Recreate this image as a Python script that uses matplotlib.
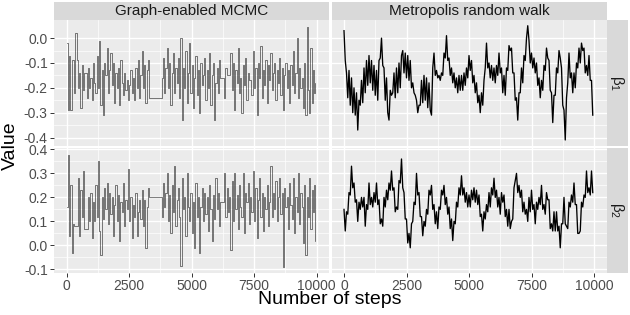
import matplotlib
matplotlib.use('Agg')
import matplotlib.pyplot as plt
import numpy as np

plt.rcParams['font.family'] = ['Liberation Sans', 'DejaVu Sans']

# trace values, one every 50 steps
ge_beta1 = [
    -0.02, -0.29, -0.07, -0.29, -0.09, -0.09, -0.22, 0.02, -0.09, -0.2,
    -0.14, -0.28, -0.11, -0.21, -0.14, -0.14, -0.24, -0.12, -0.2, -0.16,
    -0.25, -0.1, -0.18, -0.22, -0.07, -0.2, -0.01, -0.27, -0.13, -0.31,
    -0.1, -0.15, -0.04, -0.22, -0.13, -0.06, -0.19, -0.1, -0.26, -0.14,
    -0.2, -0.12, -0.27, -0.09, -0.18, -0.23, -0.14, -0.21, -0.17, -0.25,
    -0.19, -0.13, -0.22, -0.16, -0.25, -0.12, -0.2, -0.09, -0.24, -0.15,
    -0.05, -0.2, -0.11, -0.26, -0.13, -0.09, -0.24, -0.24, -0.24, -0.24,
    -0.24, -0.24, -0.24, -0.24, -0.24, -0.24, -0.16, -0.08, -0.22, -0.12,
    -0.04, -0.2, -0.1, -0.27, -0.14, -0.06, -0.22, -0.12, -0.18, -0.08,
    -0.24, 0.0, -0.33, -0.12, -0.2, -0.05, -0.26, -0.14, -0.02, -0.22,
    -0.11, -0.28, -0.16, -0.07, -0.23, -0.13, -0.3, -0.1, -0.19, -0.15,
    -0.08, -0.25, -0.13, -0.2, -0.06, -0.27, -0.15, -0.1, -0.33, -0.18,
    -0.12, -0.22, -0.09, -0.16, -0.16, -0.16, -0.24, -0.12, -0.15, -0.15,
    -0.15, -0.06, -0.21, -0.1, -0.29, -0.13, -0.18, -0.04, -0.22, -0.16,
    -0.3, -0.11, -0.19, -0.08, -0.25, -0.14, -0.17, -0.17, -0.23, -0.05,
    -0.2, -0.12, -0.31, -0.1, -0.16, -0.03, -0.24, -0.13, -0.19, -0.09,
    -0.26, -0.11, -0.17, -0.06, -0.21, -0.14, -0.1, -0.25, -0.13, -0.18,
    -0.08, -0.23, -0.12, -0.29, -0.15, -0.1, -0.2, -0.13, -0.26, -0.11,
    -0.19, -0.05, -0.22, -0.14, 0.0, -0.24, -0.12, -0.2, -0.16, -0.28,
    -0.1, -0.31, 0.045, -0.21, -0.3, -0.04, -0.26, -0.13, -0.22, -0.18,
]
ge_beta2 = [
    0.16, 0.375, 0.04, 0.25, -0.03, 0.09, 0.08, 0.08, 0.08, 0.28,
    0.04, 0.23, 0.12, 0.31, 0.07, 0.07, 0.07, 0.2, 0.1, 0.22,
    0.03, 0.18, 0.1, 0.25, 0.12, 0.35, 0.06, -0.04, 0.2, 0.11,
    0.24, 0.15, 0.26, 0.09, 0.22, 0.13, 0.2, 0.04, 0.17, 0.25,
    0.1, 0.21, 0.02, 0.18, 0.14, 0.26, 0.08, 0.19, 0.15, 0.32,
    0.1, 0.2, 0.03, 0.17, 0.12, 0.22, 0.04, 0.14, 0.19, 0.11,
    0.23, 0.08, 0.19, -0.01, 0.16, 0.24, 0.2, 0.2, 0.2, 0.2,
    0.2, 0.2, 0.2, 0.2, 0.2, 0.2, 0.12, 0.26, 0.16, 0.22,
    0.3, 0.1, 0.21, 0.05, 0.25, 0.14, 0.33, 0.08, 0.19, 0.24,
    0.12, -0.085, 0.28, 0.15, 0.2, 0.04, 0.3, 0.16, 0.1, 0.22,
    0.05, 0.18, -0.01, 0.26, 0.12, 0.2, -0.03, 0.16, 0.24, 0.1,
    0.22, 0.13, 0.2, 0.06, 0.25, 0.15, 0.02, 0.21, 0.11, 0.28,
    0.15, 0.22, 0.08, 0.18, 0.18, 0.18, 0.3, 0.12, 0.24, 0.14,
    0.2, -0.02, 0.27, 0.1, 0.3, 0.15, 0.21, 0.07, 0.25, 0.16,
    0.12, 0.3, 0.05, 0.22, 0.18, 0.26, 0.09, 0.2, 0.14, 0.31,
    0.1, 0.24, 0.03, 0.19, 0.28, 0.12, 0.22, 0.06, 0.2, 0.15,
    0.25, 0.08, 0.18, 0.33, 0.12, 0.22, 0.15, 0.27, 0.1, 0.2,
    0.28, 0.13, 0.22, -0.09, 0.24, 0.16, 0.2, 0.07, 0.26, 0.17,
    0.11, 0.28, 0.05, 0.2, 0.14, 0.3, 0.09, 0.22, 0.16, 0.01,
    0.25, -0.04, 0.2, 0.12, 0.28, 0.07, 0.23, 0.14, 0.25, 0.02,
]
mrw_beta1 = [
    0.03, -0.09, -0.14, -0.24, -0.13, -0.27, -0.16, -0.3, -0.2, -0.31,
    -0.22, -0.37, -0.25, -0.27, -0.17, -0.26, -0.12, -0.22, -0.09, -0.19,
    -0.07, -0.18, -0.09, -0.21, -0.11, -0.23, -0.13, -0.25, -0.09, -0.08,
    0.0, -0.11, -0.12, -0.25, -0.16, -0.3, -0.33, -0.21, -0.23, -0.22,
    -0.14, -0.24, -0.12, -0.22, -0.1, -0.2, -0.07, -0.05, -0.14, -0.06,
    -0.16, -0.07, -0.17, -0.09, -0.2, -0.18, -0.22, -0.23, -0.25, -0.3,
    -0.27, -0.27, -0.17, -0.26, -0.15, -0.25, -0.16, -0.28, -0.18, -0.29,
    -0.31, -0.12, -0.06, -0.15, -0.13, -0.16, -0.15, -0.17, -0.14, -0.15,
    -0.06, -0.08, 0.01, -0.09, -0.08, -0.15, -0.12, -0.18, -0.14, -0.2,
    -0.16, -0.22, -0.15, -0.21, -0.15, -0.21, -0.14, -0.19, -0.12, -0.16,
    -0.07, -0.13, -0.09, -0.18, -0.15, -0.22, -0.18, -0.26, -0.23, -0.3,
    -0.22, -0.27, -0.17, -0.12, -0.02, -0.12, -0.1, -0.16, -0.11, -0.17,
    -0.12, -0.18, -0.11, -0.15, -0.06, -0.14, -0.12, -0.22, -0.15, -0.23,
    -0.12, -0.13, -0.03, -0.05, -0.04, -0.14, -0.14, -0.25, -0.24, -0.33,
    -0.22, -0.22, -0.12, -0.18, -0.07, -0.09, 0.0, 0.05, -0.01, -0.1,
    -0.06, -0.12, -0.08, -0.14, -0.1, -0.19, -0.16, -0.24, -0.17, -0.21,
    -0.11, -0.13, -0.04, -0.08, -0.09, -0.21, -0.22, -0.34, -0.23, -0.23,
    -0.12, -0.14, -0.05, -0.08, -0.12, -0.27, -0.29, -0.41, -0.24, -0.18,
    -0.06, -0.16, -0.14, -0.22, -0.14, -0.2, -0.1, -0.12, -0.04, -0.1,
    -0.02, -0.05, -0.04, -0.14, -0.11, -0.15, -0.07, -0.17, -0.17, -0.31,
]
mrw_beta2 = [
    0.15, 0.06, 0.14, 0.13, 0.22, 0.21, 0.33, 0.24, 0.26, 0.18,
    0.19, 0.1, 0.18, 0.15, 0.2, 0.16, 0.2, 0.08, 0.17, 0.15,
    0.26, 0.17, 0.2, 0.16, 0.22, 0.18, 0.26, 0.17, 0.19, 0.09,
    0.11, 0.08, 0.2, 0.16, 0.23, 0.19, 0.26, 0.23, 0.31, 0.23,
    0.24, 0.14, 0.16, 0.15, 0.27, 0.26, 0.36, 0.24, 0.22, 0.11,
    0.11, 0.01, 0.05, -0.01, 0.09, 0.1, 0.18, 0.17, 0.3, 0.21,
    0.22, 0.12, 0.12, 0.04, 0.1, 0.08, 0.15, 0.13, 0.23, 0.21,
    0.25, 0.15, 0.17, 0.09, 0.14, 0.07, 0.16, 0.15, 0.23, 0.21,
    0.25, 0.17, 0.2, 0.13, 0.16, 0.07, 0.11, 0.02, 0.1, 0.09,
    0.18, 0.16, 0.24, 0.21, 0.29, 0.21, 0.24, 0.18, 0.22, 0.16,
    0.21, 0.16, 0.23, 0.19, 0.24, 0.18, 0.23, 0.17, 0.21, 0.12,
    0.13, 0.06, 0.14, 0.11, 0.17, 0.14, 0.22, 0.16, 0.24, 0.21,
    0.28, 0.2, 0.23, 0.16, 0.2, 0.13, 0.22, 0.18, 0.21, 0.12,
    0.15, 0.08, 0.15, 0.07, 0.1, 0.11, 0.24, 0.27, 0.3, 0.22,
    0.25, 0.2, 0.23, 0.14, 0.18, 0.13, 0.15, 0.1, 0.2, 0.14,
    0.23, 0.15, 0.17, 0.09, 0.18, 0.15, 0.2, 0.17, 0.25, 0.15,
    0.17, 0.13, 0.22, 0.19, 0.19, 0.07, 0.09, 0.06, 0.14, 0.06,
    0.14, 0.06, 0.08, -0.01, 0.09, 0.09, 0.2, 0.09, 0.08, 0.07,
    0.18, 0.16, 0.21, 0.18, 0.26, 0.17, 0.17, 0.05, 0.05, 0.06,
    0.18, 0.16, 0.21, 0.2, 0.31, 0.22, 0.24, 0.21, 0.31, 0.22,
]

methods = ["Graph-enabled MCMC", "Metropolis random walk"]
params = [r"$\mathregular{β_1}$", r"$\mathregular{β_2}$"]
series = [[ge_beta1, mrw_beta1], [ge_beta2, mrw_beta2]]
ylims = [(-0.433, 0.073), (-0.115, 0.407)]
yticks = [[-0.4, -0.3, -0.2, -0.1, 0.0], [-0.1, 0.0, 0.1, 0.2, 0.3, 0.4]]
xticks = [0, 2500, 5000, 7500, 10000]

W, H = 630, 315
fig = plt.figure(figsize=(6.3, 3.15), dpi=100)

col_x = [(54, 329), (331.5, 606.5)]
row_y = [(20, 145.7), (147.7, 273)]

for r in range(2):
    for c in range(2):
        x0, x1 = col_x[c]
        y0, y1 = row_y[r]
        ax = fig.add_axes([x0 / W, 1 - y1 / H, (x1 - x0) / W, (y1 - y0) / H])
        ax.set_facecolor('#EBEBEB')
        vals = series[r][c]
        steps = np.arange(len(vals)) * 50
        if c == 0:
            # graph-enabled chain holds its value between jumps
            ax.plot(steps, vals, color='#1A1A1A', lw=0.5, alpha=0.8,
                    drawstyle='steps-post')
        else:
            ax.plot(steps, vals, color='black', lw=0.95)
        ax.set_xlim(-500, 10500)
        ax.set_ylim(*ylims[r])
        ax.set_xticks(xticks)
        ax.set_xticks([1250, 3750, 6250, 8750], minor=True)
        ax.set_yticks(yticks[r])
        ax.set_yticks(np.array(yticks[r][:-1]) + 0.05, minor=True)
        ax.set_yticklabels(['%.1f' % v for v in yticks[r]])
        ax.set_xticklabels([str(v) for v in xticks])
        ax.grid(True, which='major', color='white', lw=1.0)
        ax.grid(True, which='minor', color='white', lw=0.5)
        ax.set_axisbelow(True)
        for s in ax.spines.values():
            s.set_visible(False)
        ax.tick_params(which='minor', length=0)
        ax.tick_params(which='major', length=3, width=0.7, color='#333333',
                       labelcolor='#4D4D4D', labelsize=10, pad=1.5)
        if c == 1:
            ax.tick_params(axis='y', left=False, labelleft=False)
        if r == 0:
            ax.tick_params(axis='x', bottom=False, labelbottom=False)

# strips on top
for c in range(2):
    x0, x1 = col_x[c]
    sax = fig.add_axes([x0 / W, 1 - 20 / H, (x1 - x0) / W, 18 / H])
    sax.set_facecolor('#D9D9D9')
    sax.set_xticks([])
    sax.set_yticks([])
    for s in sax.spines.values():
        s.set_visible(False)
    sax.text(0.5, 0.5, methods[c], ha='center', va='center', fontsize=11,
             color='#1A1A1A', transform=sax.transAxes)

# strips on the right
for r in range(2):
    y0, y1 = row_y[r]
    sax = fig.add_axes([607 / W, 1 - y1 / H, 21 / W, (y1 - y0) / H])
    sax.set_facecolor('#D9D9D9')
    sax.set_xticks([])
    sax.set_yticks([])
    for s in sax.spines.values():
        s.set_visible(False)
    sax.text(0.5, 0.5, params[r], ha='center', va='center', fontsize=11,
             color='#1A1A1A', rotation=-90, transform=sax.transAxes)

fig.text(10 / W, 1 - 146 / H, 'Value', rotation=90, ha='center', va='center',
         fontsize=14, color='black')
fig.text(330 / W, 1 - 300 / H, 'Number of steps', ha='center', va='center',
         fontsize=14, color='black')

fig.savefig('out.png', dpi=100)
